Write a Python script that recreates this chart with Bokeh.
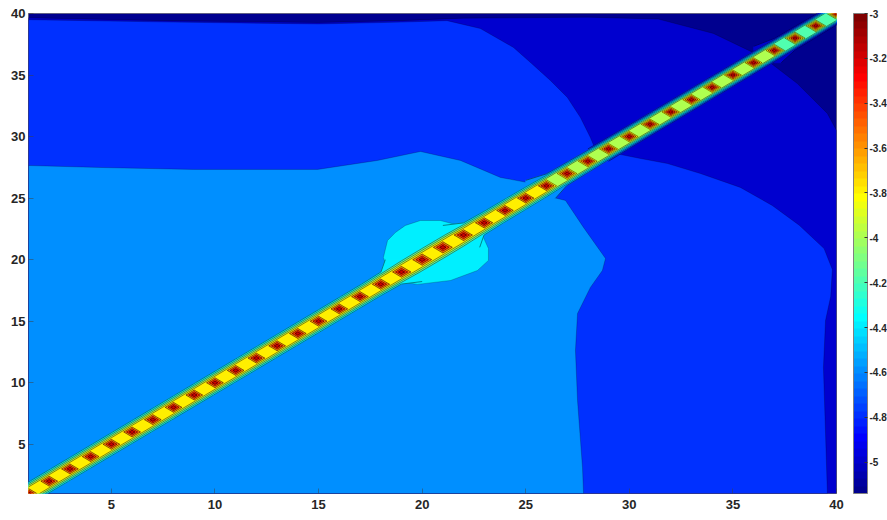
from bokeh.plotting import figure
from bokeh.models import ColorBar, LinearColorMapper, FixedTicker, CustomJSTickFormatter, Range1d
from bokeh.embed import file_html
from bokeh.resources import INLINE

# ---------------- data ----------------
x_ticks = [5, 10, 15, 20, 25, 30, 35, 40]
y_ticks = [5, 10, 15, 20, 25, 30, 35, 40]
levels = [-5.0, -4.8, -4.6, -4.4, -4.2, -4.0, -3.8, -3.6, -3.4, -3.2, -3.0]
cbar_ticks = [-5.0, -4.8, -4.6, -4.4, -4.2, -4.0, -3.8, -3.6, -3.4, -3.2, -3.0]
cbar_low = -5.14
cbar_high = -3.0

# background contour regions (area at or above the level), data coordinates
region_m50_x = [1, 40, 40, 39.56, 38.11, 36.47, 34.06, 31.4, 28.0, 22.0, 19.0, 15.0, 8.0, 1]
region_m50_y = [1, 1, 30.5, 31.88, 34.31, 36.43, 38.38, 39.55, 39.7, 39.62, 39.42, 39.27, 39.4, 39.65]

region_m48_x = [1, 39.56, 39.47, 39.37, 39.47, 39.72, 39.8, 39.4, 38.2, 36.9, 35.36, 33.43, 31.84, 30.54,
                29.4, 28.3, 28.12, 27.64, 27.01, 26.19, 25.23, 24.41, 22.81, 21.2, 19.0, 15.0, 8.0, 1]
region_m48_y = [1, 1, 5.88, 11.24, 15.06, 17.0, 19.2, 20.9, 22.8, 24.4, 25.87, 27.0, 27.81, 28.22,
                28.6, 29.2, 29.93, 31.55, 33.18, 34.56, 36.02, 37.24, 38.78, 39.42, 39.3, 39.15, 39.3, 39.5]

region_m46_x = [1, 27.79, 27.74, 27.50, 27.40, 27.50, 28.12, 28.70, 28.85, 27.79, 26.92, 26.34, 25.08,
                23.78, 21.85, 19.92, 17.84, 14.95, 8.96, 4.47, 1]
region_m46_y = [1, 1, 3.12, 8.56, 12.62, 15.63, 17.74, 19.12, 20.10, 22.62, 24.81, 25.05, 26.27,
                26.68, 28.06, 28.79, 28.06, 27.33, 27.33, 27.49, 27.65]

region_m44_x = [18.13, 18.33, 18.71, 19.19, 19.92, 20.88, 21.61, 22.33, 22.96, 23.20, 23.20, 22.67,
                21.37, 19.77, 18.95, 18.37]
region_m44_y = [20.18, 21.56, 22.21, 22.78, 23.18, 23.18, 22.86, 22.53, 21.80, 20.91, 19.94, 19.12,
                18.31, 17.99, 18.23, 18.96]

# ridge along the diagonal: value at grid points (k, k), k = 1..40
diag_peak = [-3.0, -3.0, -3.0, -3.0, -3.0, -3.0, -3.0, -3.0, -3.0, -3.0,
             -3.0, -3.0, -3.0, -3.0, -3.0, -3.0, -3.0, -3.0, -3.0, -3.0,
             -3.0, -3.0, -3.0, -3.0, -3.0, -3.0, -3.0, -3.0, -3.0, -3.0,
             -3.0, -3.0, -3.0, -3.0, -3.0, -3.0, -3.0, -3.0, -3.0, -3.0]
# value at the neighbouring points (k+1, k) and (k, k+1), k = 1..39
offdiag_value = [-4.5, -4.5, -4.5, -4.5, -4.5, -4.5, -4.5, -4.5, -4.5, -4.5,
                 -4.5, -4.5, -4.5, -4.5, -4.5, -4.5, -4.5, -4.42, -4.33, -4.32,
                 -4.33, -4.42, -4.5, -4.52, -4.56, -4.65, -4.72, -4.8, -4.85, -4.88,
                 -4.9, -4.9, -4.92, -4.94, -4.96, -4.98, -5.04, -5.08, -5.12]


# ---------------- colours: MATLAB jet(64) ----------------
def jet64_rgb(i):
    # i = 1..64
    if i <= 24:
        r = 0.0
    elif i <= 40:
        r = (i - 24) / 16
    elif i <= 56:
        r = 1.0
    else:
        r = (72 - i) / 16
    if i <= 8:
        g = 0.0
    elif i <= 24:
        g = (i - 8) / 16
    elif i <= 40:
        g = 1.0
    elif i <= 55:
        g = (56 - i) / 16
    else:
        g = 0.0
    if i <= 8:
        b = (i + 8) / 16
    elif i <= 24:
        b = 1.0
    elif i <= 39:
        b = (40 - i) / 16
    else:
        b = 0.0
    return "#%02x%02x%02x" % (round(r * 255), round(g * 255), round(b * 255))


jet_palette = [jet64_rgb(i) for i in range(1, 65)]


def level_color(c):
    t = (c - cbar_low) / (cbar_high - cbar_low)
    idx = min(max(int(t * 64), 0), 63)
    return jet_palette[idx]


# ---------------- marching squares for the ridge ----------------
def superlevel(cx, cy, cz, c):
    above = [z >= c for z in cz]
    n = sum(above)
    if n == 0 or n == 4:
        return [], []

    def cross(i, j):
        f = (c - cz[i]) / (cz[j] - cz[i])
        return (cx[i] + f * (cx[j] - cx[i]), cy[i] + f * (cy[j] - cy[i]))

    saddle = n == 2 and above[0] == above[2]
    if saddle and sum(cz) / 4 < c:
        polys, segs = [], []
        for i in range(4):
            if above[i]:
                a = cross(i, (i - 1) % 4)
                b = cross(i, (i + 1) % 4)
                polys.append([a, (cx[i], cy[i]), b])
                segs.append([a, b])
        return polys, segs
    poly, pts = [], []
    for i in range(4):
        j = (i + 1) % 4
        if above[i]:
            poly.append((cx[i], cy[i]))
        if above[i] != above[j]:
            q = cross(i, j)
            poly.append(q)
            pts.append(q)
    if saddle:
        segs = []
        for i in range(4):
            if not above[i]:
                segs.append([cross(i, (i - 1) % 4), cross(i, (i + 1) % 4)])
    else:
        segs = [[pts[0], pts[1]]]
    return [poly], segs


cells = []
n_diag = len(diag_peak)
for k in range(1, n_diag):
    H0 = diag_peak[k - 1]
    H1 = diag_peak[k]
    L = offdiag_value[k - 1]
    cells.append(([k, k + 1, k + 1, k], [k, k, k + 1, k + 1], [H0, L, H1, L]))
for k in range(2, n_diag):
    H = diag_peak[k - 1]
    La = offdiag_value[k - 2]
    Lb = offdiag_value[k - 1]
    far = min(La, Lb)
    cells.append(([k, k + 1, k + 1, k], [k - 1, k - 1, k, k], [La, far, Lb, H]))
    cells.append(([k - 1, k, k, k - 1], [k, k, k + 1, k + 1], [La, H, Lb, far]))

# ---------------- figure ----------------
p = figure(width=887, height=518, output_backend="svg", toolbar_location=None,
           x_range=Range1d(1, 40), y_range=Range1d(1, 40),
           min_border_left=28, min_border_right=51, min_border_top=13, min_border_bottom=25)
p.grid.visible = False
p.outline_line_color = "#808080"
p.outline_line_width = 1
p.background_fill_color = level_color(cbar_low)

for ax, ticks in ((p.xaxis, x_ticks), (p.yaxis, y_ticks)):
    ax.ticker = FixedTicker(ticks=ticks)
    ax.axis_line_color = None
    ax.major_tick_in = 5
    ax.major_tick_out = 0
    ax.minor_tick_line_color = None
    ax.major_tick_line_color = "#404040"
    ax.major_tick_line_alpha = 0.5
    ax.major_label_text_font = "Liberation Sans"
    ax.major_label_text_font_style = "bold"
    ax.major_label_text_font_size = "13px"
    ax.major_label_text_color = "#262626"
p.yaxis.major_label_standoff = 3
p.xaxis.major_label_standoff = 6

# base (below the lowest level)
p.quad(left=[1], right=[40], bottom=[1], top=[40], fill_color=level_color(cbar_low), line_color=None)

bg_regions = [
    (-5.0, region_m50_x, region_m50_y),
    (-4.8, region_m48_x, region_m48_y),
    (-4.6, region_m46_x, region_m46_y),
    (-4.4, region_m44_x, region_m44_y),
]
for c, xs, ys in bg_regions:
    p.patch(xs, ys, fill_color=level_color(c), line_color="black", line_width=0.6, line_alpha=0.35)

# ridge
seg_x, seg_y = [], []
for c in levels:
    pxs, pys = [], []
    for cx, cy, cz in cells:
        polys, segs = superlevel(cx, cy, cz, c)
        for poly in polys:
            pxs.append([q[0] for q in poly])
            pys.append([q[1] for q in poly])
        for a, b in segs:
            if abs(a[0] - b[0]) + abs(a[1] - b[1]) > 1e-9:
                seg_x.append([a[0], b[0]])
                seg_y.append([a[1], b[1]])
    if pxs:
        col = level_color(c)
        p.patches(pxs, pys, fill_color=col, line_color=col, line_width=0.7)
p.multi_line(seg_x, seg_y, line_color="black", line_width=0.6, line_alpha=0.75)

# colour bar
mapper = LinearColorMapper(palette=jet_palette, low=cbar_low, high=cbar_high)
cb = ColorBar(color_mapper=mapper, location=(825, 0), width=14, height=480,
              padding=0, margin=0,
              ticker=FixedTicker(ticks=cbar_ticks),
              formatter=CustomJSTickFormatter(code="return (Math.round(tick * 10) / 10).toString();"),
              major_label_text_font="Liberation Sans", major_label_text_font_style="bold",
              major_label_text_font_size="10px", major_label_text_color="#262626",
              label_standoff=2, major_tick_in=3, major_tick_line_color="#333333",
              minor_tick_line_color=None,
              bar_line_color="#808080", bar_line_width=1,
              background_fill_alpha=0, border_line_color=None)
p.add_layout(cb)

open("out.html", "w").write(file_html(p, INLINE))
